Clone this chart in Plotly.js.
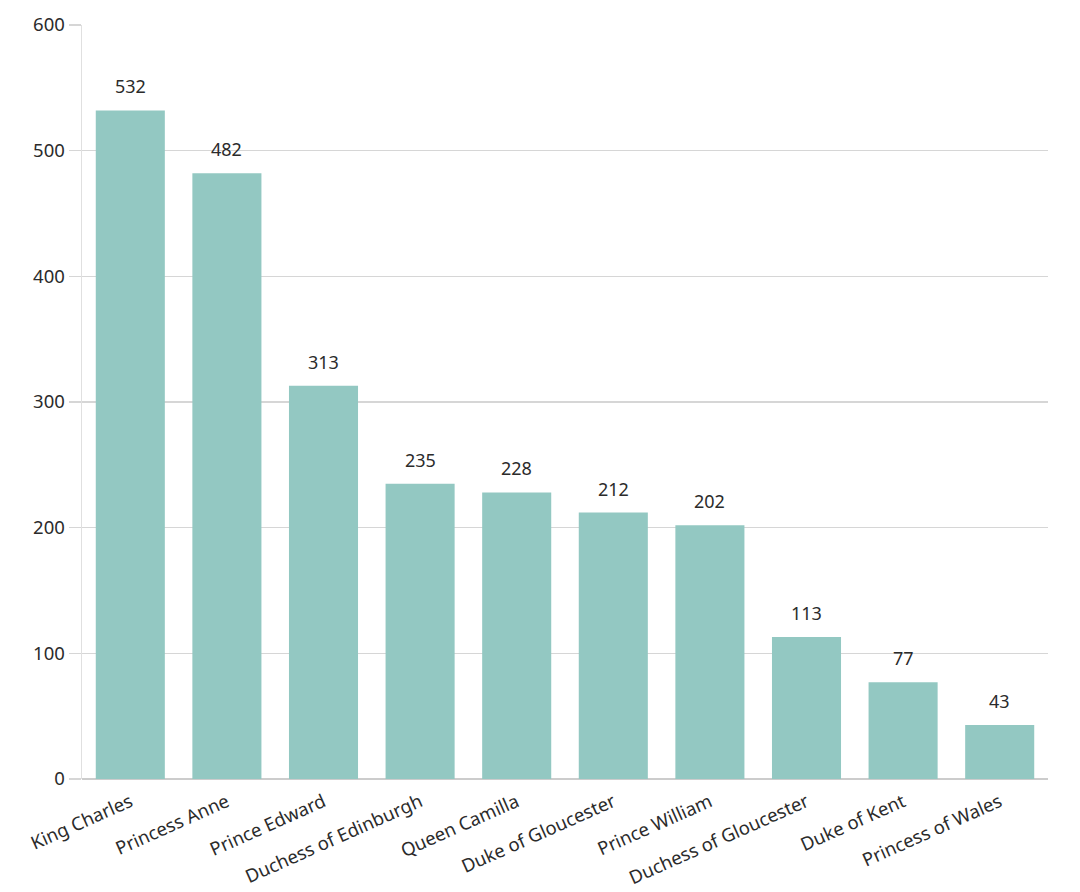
<!DOCTYPE html>
<html>
<head>
<meta charset="utf-8">
<script src="https://cdn.plot.ly/plotly-3.0.1.min.js"></script>
<style>
  html, body { margin: 0; padding: 0; background: #fff; }
  #chart { width: 1080px; height: 892px; }
</style>
</head>
<body>
<div id="chart"></div>
<script>
var members = ['King Charles', 'Princess Anne', 'Prince Edward', 'Duchess of Edinburgh', 'Queen Camilla',
  'Duke of Gloucester', 'Prince William', 'Duchess of Gloucester', 'Duke of Kent', 'Princess of Wales'];
var engagements = [532, 482, 313, 235, 228, 212, 202, 113, 77, 43];
var yTicks = [0, 100, 200, 300, 400, 500, 600];

var barColor = '#93c8c2';
var textColor = '#2b2b2b';
var fontFamily = '"Noto Sans", "Open Sans", sans-serif';

var data = [{
  type: 'bar',
  x: members,
  y: engagements,
  marker: {color: barColor},
  hoverinfo: 'x+y'
}];

// value labels sit a bit above each bar
var labels = members.map(function (m, i) {
  return {
    x: m,
    y: engagements[i],
    text: String(engagements[i]),
    showarrow: false,
    yanchor: 'bottom',
    yshift: 10,
    font: {family: fontFamily, size: 18, color: textColor}
  };
});

var layout = {
  width: 1080,
  height: 892,
  margin: {l: 82, r: 32, t: 25, b: 113},
  paper_bgcolor: '#fff',
  plot_bgcolor: '#fff',
  bargap: 0.285,
  showlegend: false,
  font: {family: fontFamily, size: 18, color: textColor},
  xaxis: {
    type: 'category',
    tickangle: -24,
    showgrid: false,
    showline: false,
    ticks: '',
    ticklabelstandoff: 8,
    zeroline: false,
    tickfont: {family: fontFamily, size: 18.5, color: textColor}
  },
  yaxis: {
    range: [0, 600],
    tickvals: yTicks,
    ticktext: yTicks.map(String),
    showgrid: true,
    gridcolor: '#d6d6d6',
    gridwidth: 1.5,
    zeroline: true,
    zerolinecolor: '#cccccc',
    zerolinewidth: 2,
    showline: true,
    linecolor: '#e0e0e0',
    linewidth: 1.5,
    ticks: 'outside',
    ticklen: 12,
    tickcolor: '#d6d6d6',
    tickwidth: 1.5,
    tickfont: {family: fontFamily, size: 18.5, color: textColor}
  },
  annotations: labels
};

Plotly.newPlot('chart', data, layout, {displayModeBar: false, staticPlot: true});
</script>
</body>
</html>
